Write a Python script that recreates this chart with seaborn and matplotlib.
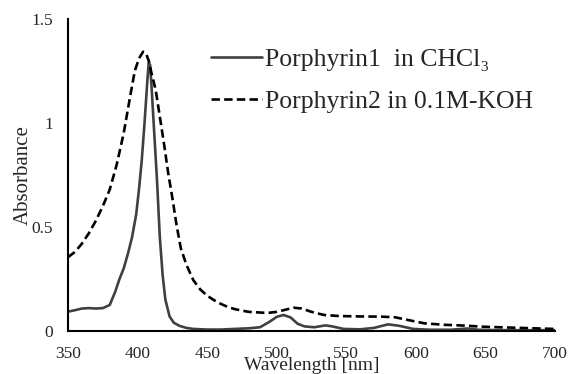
import numpy as np
import pandas as pd
import matplotlib
matplotlib.use("Agg")
import matplotlib.pyplot as plt
import seaborn as sns

# Porphyrin1 in CHCl3 (solid)
wl1 = [350, 355, 360, 365, 370, 375, 380, 384, 387, 390, 393, 396, 399, 401, 403, 405, 407, 408,
       409, 410, 412, 414, 416, 418, 420, 423, 426, 430, 435, 440, 450, 460, 470, 480, 488, 495,
       500, 505, 510, 515, 520, 527, 535, 540, 548, 560, 570, 580, 588, 598, 610, 625, 637, 645,
       660, 680, 700]
abs1 = [0.093, 0.10, 0.108, 0.11, 0.108, 0.11, 0.125, 0.19, 0.25, 0.30, 0.37, 0.45, 0.56, 0.68,
        0.82, 1.00, 1.20, 1.29, 1.28, 1.18, 0.95, 0.72, 0.45, 0.27, 0.15, 0.07, 0.04, 0.025, 0.015,
        0.01, 0.007, 0.007, 0.01, 0.013, 0.018, 0.045, 0.068, 0.077, 0.065, 0.035, 0.022, 0.018,
        0.027, 0.022, 0.01, 0.008, 0.015, 0.032, 0.025, 0.01, 0.006, 0.006, 0.012, 0.006, 0.004,
        0.004, 0.004]

# Porphyrin2 in 0.1M-KOH (dashed)
wl2 = [350, 355, 360, 365, 370, 375, 380, 385, 390, 395, 398, 401, 404, 406, 408, 410, 413, 416,
       419, 422, 425, 428, 431, 435, 440, 445, 450, 455, 460, 465, 470, 475, 480, 490, 495, 500,
       505, 512, 518, 525, 534, 545, 560, 575, 585, 595, 606, 620, 635, 647, 660, 680, 699]
abs2 = [0.355, 0.38, 0.42, 0.47, 0.53, 0.60, 0.68, 0.80, 0.95, 1.14, 1.25, 1.31, 1.343, 1.335,
        1.30, 1.24, 1.16, 1.03, 0.90, 0.76, 0.64, 0.51, 0.40, 0.32, 0.245, 0.20, 0.17, 0.148, 0.13,
        0.115, 0.105, 0.098, 0.092, 0.088, 0.088, 0.092, 0.10, 0.112, 0.108, 0.092, 0.077, 0.072,
        0.07, 0.069, 0.066, 0.052, 0.037, 0.03, 0.026, 0.021, 0.018, 0.014, 0.01]

label1 = "Porphyrin1  in CHCl\u2083"
label2 = "Porphyrin2 in 0.1M-KOH"
xticks = [350, 400, 450, 500, 550, 600, 650, 700]
yticks = [0, 0.5, 1, 1.5]
yticklabels = ["0", "0.5", "1", "1.5"]

df = pd.DataFrame({
    "Wavelength": wl1 + wl2,
    "Absorbance": abs1 + abs2,
    "Sample": [label1] * len(wl1) + [label2] * len(wl2),
})

sns.set_theme(style="white")
plt.rcParams["font.family"] = ["Liberation Serif", "DejaVu Serif"]

fig = plt.figure(figsize=(5.69, 3.74), dpi=100)
ax = fig.add_axes([68 / 569, 1 - 331 / 374, (555 - 68) / 569, (331 - 19) / 374])

sns.lineplot(data=df, x="Wavelength", y="Absorbance", hue="Sample", style="Sample",
             palette={label1: "#404040", label2: "#000000"},
             dashes={label1: "", label2: (3.2, 1.6)},
             linewidth=1.9, ax=ax, sort=False)

ax.set_xlim(350, 700)
ax.set_ylim(0, 1.5)
ax.set_xticks(xticks)
ax.set_xticklabels([str(t) for t in xticks], fontsize=12.5)
ax.set_yticks(yticks)
ax.set_yticklabels(yticklabels, fontsize=12.5)
ax.tick_params(axis="x", length=0, pad=11)
ax.tick_params(axis="y", length=0, pad=11)
for s in ["top", "right"]:
    ax.spines[s].set_visible(False)
for s in ["left", "bottom"]:
    ax.spines[s].set_color("black")
    ax.spines[s].set_linewidth(1.5)

ax.set_xlabel("Wavelength [nm]", fontsize=14, labelpad=-4)
ax.set_ylabel("Absorbance", fontsize=15, labelpad=-1)

leg = ax.legend(loc="upper left", bbox_to_anchor=(198 / 569, 1 - 35 / 374),
                bbox_transform=fig.transFigure, frameon=False, fontsize=18.5,
                handlelength=2.0, handletextpad=0.12, labelspacing=0.75, borderpad=0)

fig.savefig("out.png", dpi=100)
